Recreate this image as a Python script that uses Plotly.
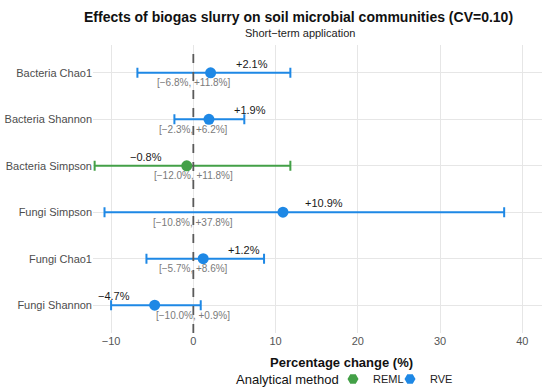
import plotly.graph_objects as go

categories = ["Bacteria Chao1", "Bacteria Shannon", "Bacteria Simpson",
              "Fungi Simpson", "Fungi Chao1", "Fungi Shannon"]
estimate = [2.1, 1.9, -0.8, 10.9, 1.2, -4.7]
lower = [-6.8, -2.3, -12.0, -10.8, -5.7, -10.0]
upper = [11.8, 6.2, 11.8, 37.8, 8.6, 0.9]
method = ["RVE", "RVE", "REML", "RVE", "RVE", "RVE"]
x_ticks = [-10, 0, 10, 20, 30, 40]

colors = {"REML": "#43A047", "RVE": "#1E88E5"}
FONT = "Liberation Sans, Arial, sans-serif"

fig = go.Figure()
for m in ["REML", "RVE"]:
    idx = [i for i, mm in enumerate(method) if mm == m]
    xs = [estimate[i] for i in idx]
    ys = [categories[i] for i in idx]
    fig.add_trace(go.Scatter(
        x=xs, y=ys, mode="markers", name=m,
        marker=dict(color=colors[m], size=11),
        error_x=dict(type="data", symmetric=False,
                     array=[upper[i] - estimate[i] for i in idx],
                     arrayminus=[estimate[i] - lower[i] for i in idx],
                     color=colors[m], thickness=2, width=5),
        showlegend=False,
    ))
    # legend entry
    fig.add_trace(go.Scatter(
        x=[None], y=[None], mode="markers", name=m,
        marker=dict(color=colors[m], size=11, symbol="hexagon2"),
    ))
# invisible spacer entry so the last legend label is not clipped
fig.add_trace(go.Scatter(x=[None], y=[None], mode="markers", name="\u200b",
                         marker=dict(color="rgba(0,0,0,0)", size=1), hoverinfo="skip"))

ann = []
for i, c in enumerate(categories):
    e = estimate[i]
    sign = "+" if e >= 0 else "\u2212"
    ann.append(dict(x=e, y=c, xref="x", yref="y",
                    text=f"{sign}{abs(e):.1f}%", showarrow=False,
                    xshift=41 if e >= 0 else -41, yshift=9,
                    font=dict(family=FONT, size=11, color="#1a1a1a")))
    lo = lower[i]; hi = upper[i]
    los = ("+" if lo >= 0 else "\u2212") + f"{abs(lo):.1f}%"
    his = ("+" if hi >= 0 else "\u2212") + f"{abs(hi):.1f}%"
    ann.append(dict(x=0, y=c, xref="x", yref="y",
                    text=f"[{los}, {his}]", showarrow=False, yshift=-10,
                    font=dict(family=FONT, size=10, color="#7a7a7a")))

ann.append(dict(x=298, y=17, xref="paper", yref="paper", showarrow=False,
                text="<b>Effects of biogas slurry on soil microbial communities (CV=0.10)</b>",
                font=dict(family=FONT, size=14, color="#111")))
ann.append(dict(x=300, y=33, xref="paper", yref="paper", showarrow=False,
                text="Short\u2212term application",
                font=dict(family=FONT, size=11, color="#222")))
ann.append(dict(x=341, y=362, xref="paper", yref="paper", showarrow=False,
                text="<b>Percentage change (%)</b>",
                font=dict(family=FONT, size=13, color="#111")))
ann.append(dict(x=341, y=379, xref="paper", yref="paper", showarrow=False,
                xanchor="right", text="Analytical method",
                font=dict(family=FONT, size=13, color="#111")))

# convert pixel positions above to paper coords
L, R, T, B = 93, 8, 45, 59
PW, PH = 550 - L - R, 392 - T - B
for a in ann:
    if a["xref"] == "paper":
        a["x"] = (a["x"] - L) / PW
        a["y"] = (392 - B - a["y"]) / PH
        a["yanchor"] = "middle"

fig.update_layout(
    width=550, height=392,
    margin=dict(l=L, r=R, t=T, b=B, autoexpand=False),
    paper_bgcolor="white", plot_bgcolor="white",
    font=dict(family=FONT),
    annotations=ann,
    shapes=[dict(type="line", x0=0, x1=0, y0=0, y1=1, xref="x", yref="paper",
                 line=dict(color="#5a5a5a", width=1.8, dash="dash"), layer="above")],
    xaxis=dict(range=[-12.2, 42.4], tickvals=x_ticks, automargin=False,
               ticktext=[("\u2212" + str(abs(v))) if v < 0 else str(v) for v in x_ticks],
               showgrid=True, gridcolor="#e6e6e6", gridwidth=1, zeroline=False,
               showline=False, ticks="",
               tickfont=dict(family=FONT, size=11, color="#555")),
    yaxis=dict(categoryorder="array", categoryarray=categories[::-1], automargin=False,
               range=[-0.6, 5.6], showgrid=True, gridcolor="#e6e6e6", gridwidth=1,
               zeroline=False, showline=False, ticks="",
               tickfont=dict(family=FONT, size=11, color="#4d4d4d")),
    legend=dict(orientation="h", x=(333 - L) / PW, xanchor="left",
                y=(392 - B - 379) / PH, yanchor="middle",
                font=dict(family=FONT, size=11, color="#222"),
                itemwidth=30, entrywidth=12, bgcolor="rgba(0,0,0,0)"),
)

fig.write_html("out.html", config={"displayModeBar": False},
               post_script="document.body.style.margin='0';document.body.style.overflow='hidden';")
